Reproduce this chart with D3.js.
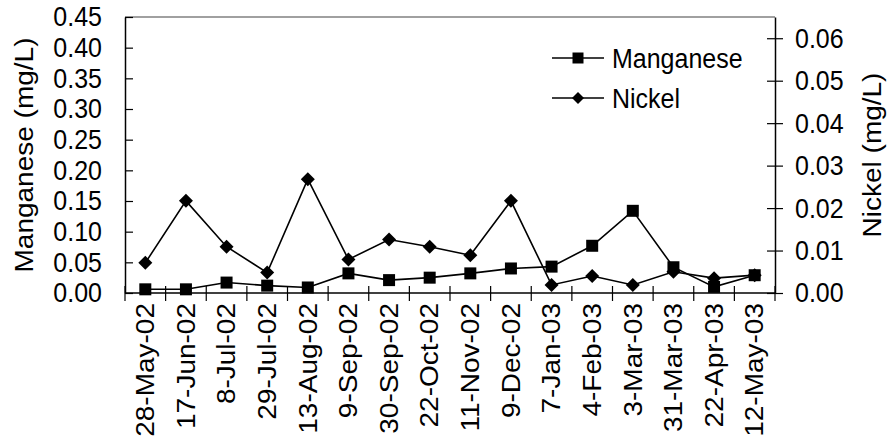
<!DOCTYPE html>
<html>
<head>
<meta charset="utf-8">
<script src="https://cdn.jsdelivr.net/npm/d3@7"></script>
<style>
  html, body { margin: 0; padding: 0; background: #fff; }
  svg text { font-family: Arial, "Liberation Sans", sans-serif; fill: #000; }
</style>
</head>
<body>
<svg id="chart" width="891" height="444"></svg>
<script>
// Sampling dates
const dates = ["28-May-02", "17-Jun-02", "8-Jul-02", "29-Jul-02", "13-Aug-02", "9-Sep-02",
  "30-Sep-02", "22-Oct-02", "11-Nov-02", "9-Dec-02", "7-Jan-03", "4-Feb-03",
  "3-Mar-03", "31-Mar-03", "22-Apr-03", "12-May-03"];

// Manganese concentration (mg/L), left axis
const manganese = [0.006, 0.006, 0.017, 0.012, 0.009, 0.032, 0.021, 0.025,
  0.032, 0.040, 0.043, 0.077, 0.134, 0.042, 0.010, 0.029];

// Nickel concentration (mg/L), right axis
const nickel = [0.0071, 0.0217, 0.0109, 0.0048, 0.0268, 0.0079, 0.0126, 0.0109,
  0.0089, 0.0217, 0.0019, 0.0040, 0.0019, 0.0050, 0.0035, 0.0042];

const leftTicks = [0, 0.05, 0.10, 0.15, 0.20, 0.25, 0.30, 0.35, 0.40, 0.45];
const rightTicks = [0, 0.01, 0.02, 0.03, 0.04, 0.05, 0.06];

const svg = d3.select("#chart");
const plot = { left: 125, right: 775, top: 17, bottom: 293 };
const fontSize = 25;
const stretch = 1.12;   // text is drawn slightly taller than wide

const x = d3.scaleBand().domain(dates).range([plot.left, plot.right]).padding(0);
const yL = d3.scaleLinear().domain([0, 0.45]).range([plot.bottom, plot.top]);
const yR = d3.scaleLinear().domain([0, 0.065]).range([plot.bottom, plot.top]);
const cx = d => x(d) + x.bandwidth() / 2;

// Plot area frame: grey top edge
svg.append("line")
  .attr("x1", plot.left).attr("x2", plot.right)
  .attr("y1", plot.top).attr("y2", plot.top)
  .attr("stroke", "#808080").attr("stroke-width", 1.5);

// Left axis
const leftAxis = svg.append("g").attr("transform", `translate(${plot.left},0)`)
  .call(d3.axisLeft(yL).tickValues(leftTicks).tickFormat(d3.format(".2f"))
    .tickSizeInner(10).tickSizeOuter(0).tickPadding(13));
leftAxis.selectAll(".tick line").attr("x2", 8);
leftAxis.select(".domain").attr("stroke", "#000").attr("stroke-width", 1.5);
leftAxis.selectAll(".tick line").attr("stroke", "#000").attr("stroke-width", 1.2);
leftAxis.selectAll("text").attr("font-size", fontSize)
  .attr("font-family", "Arial, 'Liberation Sans', sans-serif")
  .attr("transform", `scale(1,${stretch})`);

// Right axis
const rightAxis = svg.append("g").attr("transform", `translate(${plot.right},0)`)
  .call(d3.axisRight(yR).tickValues(rightTicks).tickFormat(d3.format(".2f"))
    .tickSizeInner(8).tickSizeOuter(0).tickPadding(12));
rightAxis.selectAll(".tick line").attr("x1", -8);
rightAxis.select(".domain").attr("stroke", "#000").attr("stroke-width", 1.5);
rightAxis.selectAll(".tick line").attr("stroke", "#000").attr("stroke-width", 1.2);
rightAxis.selectAll("text").attr("font-size", fontSize)
  .attr("font-family", "Arial, 'Liberation Sans', sans-serif")
  .attr("transform", `scale(1,${stretch})`);

// Bottom category axis: ticks between categories, crossing the line
const xAxisG = svg.append("g");
xAxisG.append("line")
  .attr("x1", plot.left).attr("x2", plot.right)
  .attr("y1", plot.bottom).attr("y2", plot.bottom)
  .attr("stroke", "#000").attr("stroke-width", 1.5);
const boundaries = dates.map(d => x(d)).concat([x(dates[dates.length - 1]) + x.bandwidth()]);
xAxisG.selectAll("line.tick").data(boundaries).join("line")
  .attr("class", "tick")
  .attr("x1", d => d).attr("x2", d => d)
  .attr("y1", plot.bottom - 7).attr("y2", plot.bottom + 8)
  .attr("stroke", "#000").attr("stroke-width", 1.2);
xAxisG.selectAll("text").data(dates).join("text")
  .attr("transform", d => `translate(${cx(d)},${plot.bottom + 10}) rotate(-90) scale(${stretch},1)`)
  .attr("text-anchor", "end")
  .attr("dy", "0.35em")
  .attr("font-size", fontSize)
  .text(d => d);

// Axis titles
svg.append("text")
  .attr("transform", `translate(24,${(plot.top + plot.bottom) / 2}) rotate(-90) scale(${stretch},1)`)
  .attr("text-anchor", "middle").attr("dy", "0.35em")
  .attr("font-size", fontSize)
  .text("Manganese (mg/L)");
svg.append("text")
  .attr("transform", `translate(872,${(plot.top + plot.bottom) / 2}) rotate(-90) scale(${stretch},1)`)
  .attr("text-anchor", "middle").attr("dy", "0.35em")
  .attr("font-size", fontSize)
  .text("Nickel (mg/L)");

// Marker shapes
const squarePath = s => `M${-s / 2},${-s / 2}h${s}v${s}h${-s}Z`;
const diamondPath = s => `M0,${-s / 2}L${s / 2},0L0,${s / 2}L${-s / 2},0Z`;

// Series lines
const lineL = d3.line().x((d, i) => cx(dates[i])).y(d => yL(d));
const lineR = d3.line().x((d, i) => cx(dates[i])).y(d => yR(d));

svg.append("path").datum(manganese)
  .attr("d", lineL).attr("fill", "none").attr("stroke", "#000").attr("stroke-width", 1.6);
svg.append("path").datum(nickel)
  .attr("d", lineR).attr("fill", "none").attr("stroke", "#000").attr("stroke-width", 1.6);

svg.append("g").selectAll("path").data(manganese).join("path")
  .attr("transform", (d, i) => `translate(${cx(dates[i])},${yL(d)})`)
  .attr("d", squarePath(12)).attr("fill", "#000");
svg.append("g").selectAll("path").data(nickel).join("path")
  .attr("transform", (d, i) => `translate(${cx(dates[i])},${yR(d)})`)
  .attr("d", diamondPath(14)).attr("fill", "#000");

// Legend
const legend = svg.append("g");
const legendItems = [
  { name: "Manganese", shape: squarePath(11), y: 58 },
  { name: "Nickel", shape: diamondPath(12), y: 98 }
];
legendItems.forEach(it => {
  legend.append("line").attr("x1", 552).attr("x2", 604)
    .attr("y1", it.y).attr("y2", it.y).attr("stroke", "#000").attr("stroke-width", 1.6);
  legend.append("path").attr("transform", `translate(578,${it.y})`)
    .attr("d", it.shape).attr("fill", "#000");
  legend.append("text").attr("transform", `translate(612,${it.y}) scale(1,${stretch})`)
    .attr("dy", "0.35em")
    .attr("font-size", fontSize).text(it.name);
});
</script>
</body>
</html>
